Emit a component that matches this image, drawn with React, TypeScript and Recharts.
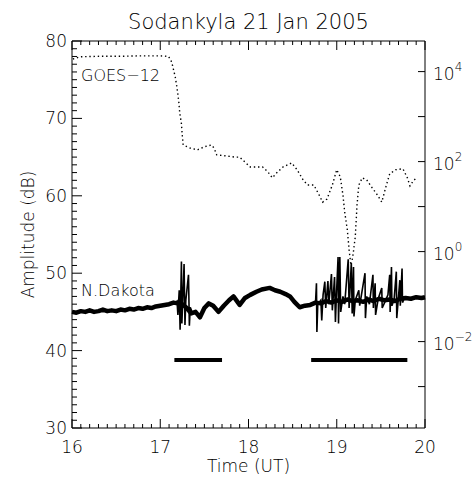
import React from "react";
import { LineChart, Line, XAxis, YAxis } from "recharts";

const W = 476;
const H = 481;
const PL = 72;
const PR = 425;
const PT = 41;
const PB = 428;
const FONT = "'DejaVu Sans', sans-serif";
const FW = 200;

// GOES-12 X-ray flux, read as powers of ten off the right axis
const goesHours = [
  16.01, 16.09, 16.32, 16.54, 16.77, 17.0, 17.09, 17.12, 17.14, 17.17, 17.19, 17.21, 17.22, 17.24,
  17.25, 17.26, 17.34, 17.42, 17.5, 17.58, 17.61, 17.64, 17.73, 17.85, 17.9, 17.96, 18.02, 18.1,
  18.16, 18.22, 18.27, 18.32, 18.39, 18.49, 18.55, 18.62, 18.67, 18.74, 18.8, 18.84, 18.89, 18.95,
  19.0, 19.04, 19.07, 19.09, 19.12, 19.14, 19.16, 19.18, 19.21, 19.23, 19.25, 19.29, 19.34, 19.4,
  19.46, 19.51, 19.56, 19.6, 19.67, 19.75, 19.8, 19.83, 19.86, 19.9
];
const goesExp = [
  4.28, 4.33, 4.34, 4.34, 4.35, 4.35, 4.34, 4.26, 4.13, 3.88, 3.64, 3.33, 3.1, 2.84, 2.57, 2.37,
  2.3, 2.26, 2.33, 2.37, 2.3, 2.15, 2.13, 2.1, 2.1, 1.99, 1.88, 1.88, 1.88, 1.77, 1.64, 1.75, 1.88,
  1.97, 1.82, 1.59, 1.48, 1.48, 1.26, 1.1, 1.17, 1.48, 1.82, 1.66, 1.26, 0.88, 0.48, 0.04, -0.3,
  -0.14, 0.33, 1.04, 1.48, 1.64, 1.59, 1.42, 1.26, 1.1, 1.46, 1.73, 1.82, 1.84, 1.64, 1.46, 1.55,
  1.64
];

// N.Dakota amplitude (dB), the thick background level
const bandHours = [
  16.0, 16.05, 16.1, 16.15, 16.2, 16.25, 16.3, 16.35, 16.4, 16.45, 16.5, 16.55, 16.6, 16.65, 16.7,
  16.75, 16.8, 16.85, 16.9, 16.95, 17.0, 17.05, 17.1, 17.15, 17.2, 17.25, 17.3, 17.35, 17.4, 17.45,
  17.5, 17.55, 17.6, 17.66, 17.72, 17.78, 17.83, 17.9, 17.96, 18.02, 18.09, 18.15, 18.24, 18.3,
  18.36, 18.42, 18.47, 18.52, 18.58, 18.64, 18.7, 18.76, 18.82, 18.88, 18.94, 19.0, 19.06, 19.12,
  19.18, 19.24, 19.3, 19.36, 19.42, 19.48, 19.54, 19.6, 19.66, 19.72, 19.78, 19.84, 19.9, 19.96, 20.0
];
const bandDb = [
  45.0, 44.9, 45.1, 45.0, 45.2, 45.0, 45.1, 45.3, 45.1, 45.2, 45.1, 45.3, 45.2, 45.4, 45.3, 45.5,
  45.4, 45.6, 45.5, 45.7, 45.8, 45.9, 46.0, 46.2, 46.1, 46.0, 45.5, 44.8, 45.0, 44.3, 45.5, 46.1,
  45.8, 45.0, 45.8, 46.5, 47.0, 45.9, 46.8, 47.2, 47.6, 47.9, 48.1, 47.8, 47.6, 47.3, 47.0, 46.3,
  45.6, 45.8, 45.9, 46.2, 46.1, 46.4, 46.2, 46.5, 46.3, 46.6, 46.4, 46.5, 46.3, 46.6, 46.4, 46.7,
  46.5, 46.6, 46.4, 46.7, 46.8, 46.7, 46.9, 46.8, 46.9
];

// N.Dakota spikes
const spike1Hours = [17.17, 17.19, 17.2, 17.215, 17.225, 17.24, 17.245, 17.26, 17.27, 17.28, 17.29, 17.32, 17.33, 17.34, 17.36];
const spike1Db = [46.2, 46.4, 44.6, 47.8, 42.7, 51.5, 43.5, 48.0, 51.2, 43.3, 46.5, 49.8, 43.2, 45.6, 45.0];
const spike2Hours = [
  18.76, 18.77, 18.775, 18.785, 18.82, 18.83, 18.845, 18.865, 18.875, 18.9, 18.91, 18.94, 18.95,
  18.975, 18.985, 18.995, 19.015, 19.02, 19.035, 19.045, 19.07, 19.09, 19.13, 19.14, 19.165, 19.175,
  19.19, 19.195, 19.21, 19.25, 19.26, 19.32, 19.325, 19.34, 19.37, 19.41, 19.415, 19.435, 19.44,
  19.47, 19.51, 19.515, 19.55, 19.58, 19.6, 19.605, 19.62, 19.625, 19.65, 19.675, 19.68, 19.715,
  19.72, 19.74, 19.745, 19.76
];
const spike2Db = [
  46.3, 48.7, 42.4, 46.0, 46.5, 43.9, 47.2, 48.9, 45.5, 49.0, 46.0, 49.9, 45.2, 49.5, 43.7, 46.8,
  52.1, 43.5, 52.1, 45.0, 47.0, 46.0, 51.8, 45.5, 51.3, 44.8, 50.8, 44.4, 46.5, 47.8, 45.8, 50.0,
  44.2, 47.0, 46.0, 49.8, 45.5, 48.7, 44.6, 46.7, 48.1, 45.5, 46.4, 47.2, 49.8, 45.0, 50.8, 45.8,
  46.6, 50.2, 44.2, 49.1, 45.8, 50.6, 46.2, 46.6
];

// horizontal bars (intervals)
const bar1Hours = [17.16, 17.7];
const bar2Hours = [18.71, 19.8];
const barDb = 38.8;

const hourMajor = [16, 17, 18, 19, 20];
const dbMajor = [30, 40, 50, 60, 70, 80];
const decadeLabels = [-2, 0, 2, 4];

const hourTicks = Array.from({ length: 41 }, (_, i) => 16 + i / 10);
const dbTicks = Array.from({ length: 51 }, (_, i) => 30 + i);
const decadeTicks = [-3, -2, -1, 0, 1, 2, 3, 4].map((e) => Math.pow(10, e));

const goes = goesHours.map((t, i) => ({ t, v: Math.pow(10, goesExp[i]) }));
const band = bandHours.map((t, i) => ({ t, v: bandDb[i] }));
const spike1 = spike1Hours.map((t, i) => ({ t, v: spike1Db[i] }));
const spike2 = spike2Hours.map((t, i) => ({ t, v: spike2Db[i] }));
const bar1 = bar1Hours.map((t) => ({ t, v: barDb }));
const bar2 = bar2Hours.map((t) => ({ t, v: barDb }));

const isMajorHour = (v: number) => hourMajor.some((m) => Math.abs(m - v) < 1e-6);

const BottomTick = (props: any) => {
  const { x, payload } = props;
  const major = isMajorHour(payload.value);
  return (
    <g>
      <line x1={x} x2={x} y1={PB} y2={PB - (major ? 9 : 4)} stroke="#000" />
      {major && (
        <text x={x} y={PB + 19} textAnchor="middle" dominantBaseline="central" fontFamily={FONT} fontWeight={FW} fontSize={17} fill="#000">
          {Math.round(payload.value)}
        </text>
      )}
    </g>
  );
};

const TopTick = (props: any) => {
  const { x, payload } = props;
  const major = isMajorHour(payload.value);
  return <line x1={x} x2={x} y1={PT} y2={PT + (major ? 9 : 4)} stroke="#000" />;
};

const LeftTick = (props: any) => {
  const { y, payload } = props;
  const major = dbMajor.includes(payload.value);
  return (
    <g>
      <line x1={PL} x2={PL + (major ? 10 : 5)} y1={y} y2={y} stroke="#000" />
      {major && (
        <text x={PL - 5} y={y} textAnchor="end" dominantBaseline="central" fontFamily={FONT} fontWeight={FW} fontSize={17} fill="#000">
          {payload.value}
        </text>
      )}
    </g>
  );
};

const RightTick = (props: any) => {
  const { y, payload } = props;
  const e = Math.round(Math.log10(payload.value));
  return (
    <g>
      <line x1={PR} x2={PR - 7} y1={y} y2={y} stroke="#000" />
      {decadeLabels.includes(e) && (
        <text x={PR + 8} y={y + 2} dominantBaseline="central" fontFamily={FONT} fontWeight={FW} fontSize={17} fill="#000">
          10
          <tspan dy={-7} fontSize={12}>
            {e < 0 ? "\u2212" + Math.abs(e) : e}
          </tspan>
        </text>
      )}
    </g>
  );
};

export default function App() {
  const txt = { fontFamily: FONT, fontWeight: FW, fill: "#000" };
  return (
    <div style={{ position: "absolute", left: 0, top: 0, width: W, height: H, background: "#fff" }}>
      <LineChart width={W} height={H} margin={{ top: PT - 1, right: 0, bottom: 0, left: 0 }}>
        <XAxis
          xAxisId="bottom"
          dataKey="t"
          type="number"
          domain={[16, 20]}
          ticks={hourTicks}
          interval={0}
          height={H - PB}
          tick={<BottomTick />}
          tickLine={false}
          axisLine={{ stroke: "#000" }}
        />
        <XAxis
          xAxisId="top"
          orientation="top"
          dataKey="t"
          type="number"
          domain={[16, 20]}
          ticks={hourTicks}
          interval={0}
          height={1}
          tick={<TopTick />}
          tickLine={false}
          axisLine={{ stroke: "#000" }}
        />
        <YAxis
          yAxisId="left"
          type="number"
          domain={[30, 80]}
          ticks={dbTicks}
          interval={0}
          width={PL}
          tick={<LeftTick />}
          tickLine={false}
          axisLine={{ stroke: "#000" }}
          allowDataOverflow
        />
        <YAxis
          yAxisId="right"
          orientation="right"
          type="number"
          scale="log"
          domain={[Math.pow(10, -3.92), Math.pow(10, 4.68)]}
          ticks={decadeTicks}
          interval={0}
          width={W - PR}
          tick={<RightTick />}
          tickLine={false}
          axisLine={{ stroke: "#000" }}
          allowDataOverflow
        />
        <Line data={goes} dataKey="v" xAxisId="bottom" yAxisId="right" type="linear" stroke="#000" strokeWidth={1.4} strokeDasharray="1.4 2.8" dot={false} isAnimationActive={false} />
        <Line data={band} dataKey="v" xAxisId="bottom" yAxisId="left" type="linear" stroke="#000" strokeWidth={4.5} strokeLinejoin="round" dot={false} isAnimationActive={false} />
        <Line data={spike1} dataKey="v" xAxisId="bottom" yAxisId="left" type="linear" stroke="#000" strokeWidth={1.6} dot={false} isAnimationActive={false} />
        <Line data={spike2} dataKey="v" xAxisId="bottom" yAxisId="left" type="linear" stroke="#000" strokeWidth={1.6} dot={false} isAnimationActive={false} />
        <Line data={bar1} dataKey="v" xAxisId="top" yAxisId="left" type="linear" stroke="#000" strokeWidth={4} dot={false} isAnimationActive={false} />
        <Line data={bar2} dataKey="v" xAxisId="top" yAxisId="left" type="linear" stroke="#000" strokeWidth={4} dot={false} isAnimationActive={false} />
      </LineChart>
      <svg width={W} height={H} style={{ position: "absolute", left: 0, top: 0, pointerEvents: "none" }}>
        <text x={(PL + PR) / 2} y={22} textAnchor="middle" dominantBaseline="central" fontSize={21} {...txt}>
          Sodankyla 21 Jan 2005
        </text>
        <text x={(PL + PR) / 2} y={466} textAnchor="middle" dominantBaseline="central" fontSize={17} {...txt}>
          Time (UT)
        </text>
        <text
          x={28}
          y={(PT + PB) / 2}
          textAnchor="middle"
          dominantBaseline="central"
          fontSize={17}
          transform={`rotate(-90 28 ${(PT + PB) / 2})`}
          {...txt}
        >
          Amplitude (dB)
        </text>
        <text x={81} y={75} dominantBaseline="central" fontSize={16} {...txt}>
          GOES−12
        </text>
        <text x={81} y={290} dominantBaseline="central" fontSize={16} {...txt}>
          N.Dakota
        </text>
      </svg>
    </div>
  );
}
